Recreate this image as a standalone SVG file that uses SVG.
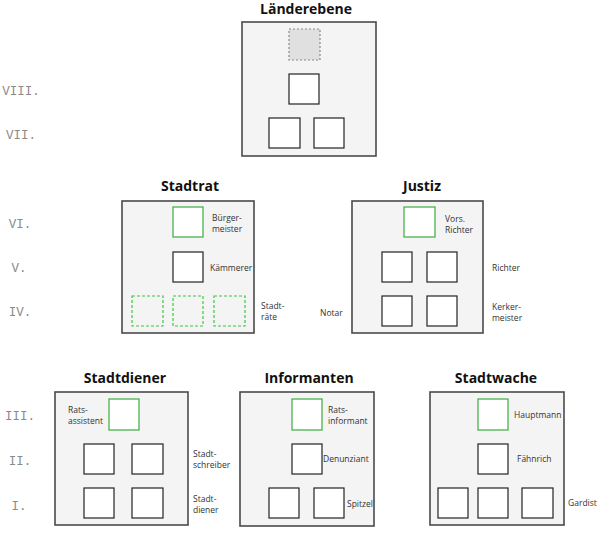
<svg xmlns="http://www.w3.org/2000/svg" width="603" height="533" viewBox="0 0 603 533">
<style>
.panel{fill:#f4f4f4;stroke:#4a4a4a;stroke-width:1.6}
.sq{fill:#fff;stroke:#222;stroke-width:1.2}
.gr{fill:#fff;stroke:#3cac3c;stroke-width:1.2}
.gd{fill:none;stroke:#3cc83c;stroke-width:1.2;stroke-dasharray:3 2}
.gray{fill:#e0e0e0;stroke:#888;stroke-width:1.2;stroke-dasharray:2 2}
.title{font-family:"Open Sans","Liberation Sans",sans-serif;font-size:14px;font-weight:bold;fill:#111;text-anchor:middle}
.lbl{font-family:"Open Sans","Liberation Sans",sans-serif;font-size:8.5px;fill:#333}
.rom{font-family:"Liberation Mono",monospace;font-size:12.5px;fill:#8a8a8a;text-anchor:middle}
</style>
<rect width="603" height="533" fill="#fff"/>
<g id="levels">
<text class="rom" x="21" y="95">VIII.</text>
<text class="rom" x="21" y="139">VII.</text>
<text class="rom" x="20" y="228">VI.</text>
<text class="rom" x="19" y="272">V.</text>
<text class="rom" x="20" y="316">IV.</text>
<text class="rom" x="20" y="420">III.</text>
<text class="rom" x="20" y="465">II.</text>
<text class="rom" x="19" y="510">I.</text>
</g>
<g id="connectors"/>
<g id="laenderebene">
<text class="title" x="306" y="14">Länderebene</text>
<rect class="panel" x="242" y="22" width="134" height="134"/>
<rect class="gray" x="289" y="29" width="31" height="31"/>
<rect class="sq" x="289" y="74" width="30" height="30"/>
<rect class="sq" x="269" y="118" width="31" height="30"/>
<rect class="sq" x="314" y="118" width="30" height="30"/>
</g>
<g id="stadtrat">
<text class="title" x="190" y="191">Stadtrat</text>
<rect class="panel" x="122" y="201" width="132" height="132"/>
<rect class="gr" x="173" y="207" width="30" height="30"/>
<rect class="sq" x="173" y="252" width="30" height="30"/>
<rect class="gd" x="132" y="296" width="31" height="30"/>
<rect class="gd" x="173" y="296" width="30" height="30"/>
<rect class="gd" x="214" y="296" width="31" height="30"/>
<text class="lbl" x="212" y="221">Bürger-</text>
<text class="lbl" x="212" y="232">meister</text>
<text class="lbl" x="210" y="271">Kämmerer</text>
<text class="lbl" x="261" y="309">Stadt-</text>
<text class="lbl" x="261" y="320">räte</text>
</g>
<g id="justiz">
<text class="title" x="422" y="191">Justiz</text>
<rect class="panel" x="352" y="201" width="131" height="132"/>
<rect class="gr" x="404" y="207" width="31" height="30"/>
<rect class="sq" x="382" y="252" width="30" height="30"/>
<rect class="sq" x="427" y="252" width="30" height="30"/>
<rect class="sq" x="382" y="296" width="30" height="30"/>
<rect class="sq" x="427" y="296" width="30" height="30"/>
<text class="lbl" x="445" y="222">Vors.</text>
<text class="lbl" x="445" y="233">Richter</text>
<text class="lbl" x="492" y="271">Richter</text>
<text class="lbl" x="320" y="316">Notar</text>
<text class="lbl" x="492" y="310">Kerker-</text>
<text class="lbl" x="492" y="321">meister</text>
</g>
<g id="stadtdiener">
<text class="title" x="125" y="383">Stadtdiener</text>
<rect class="panel" x="55" y="392" width="133" height="133"/>
<rect class="gr" x="109" y="399" width="30" height="31"/>
<rect class="sq" x="84" y="444" width="30" height="30"/>
<rect class="sq" x="132" y="444" width="31" height="30"/>
<rect class="sq" x="84" y="488" width="30" height="30"/>
<rect class="sq" x="132" y="488" width="31" height="30"/>
<text class="lbl" x="68" y="413">Rats-</text>
<text class="lbl" x="68" y="424">assistent</text>
<text class="lbl" x="193" y="457">Stadt-</text>
<text class="lbl" x="193" y="468">schreiber</text>
<text class="lbl" x="193" y="502">Stadt-</text>
<text class="lbl" x="193" y="513">diener</text>
</g>
<g id="informanten">
<text class="title" x="309" y="383">Informanten</text>
<rect class="panel" x="240" y="392" width="134" height="134"/>
<rect class="gr" x="292" y="399" width="30" height="31"/>
<rect class="sq" x="292" y="444" width="30" height="30"/>
<rect class="sq" x="269" y="488" width="30" height="30"/>
<rect class="sq" x="314" y="488" width="30" height="30"/>
<text class="lbl" x="328" y="413">Rats-</text>
<text class="lbl" x="328" y="424">informant</text>
<text class="lbl" x="323" y="462">Denunziant</text>
<text class="lbl" x="347" y="507">Spitzel</text>
</g>
<g id="stadtwache">
<text class="title" x="496" y="383">Stadtwache</text>
<rect class="panel" x="430" y="392" width="134" height="133"/>
<rect class="gr" x="478" y="399" width="30" height="31"/>
<rect class="sq" x="478" y="444" width="30" height="30"/>
<rect class="sq" x="438" y="488" width="30" height="30"/>
<rect class="sq" x="478" y="488" width="30" height="30"/>
<rect class="sq" x="522" y="488" width="31" height="30"/>
<text class="lbl" x="514" y="418">Hauptmann</text>
<text class="lbl" x="517" y="462">Fähnrich</text>
<text class="lbl" x="568" y="506">Gardist</text>
</g>
</svg>
